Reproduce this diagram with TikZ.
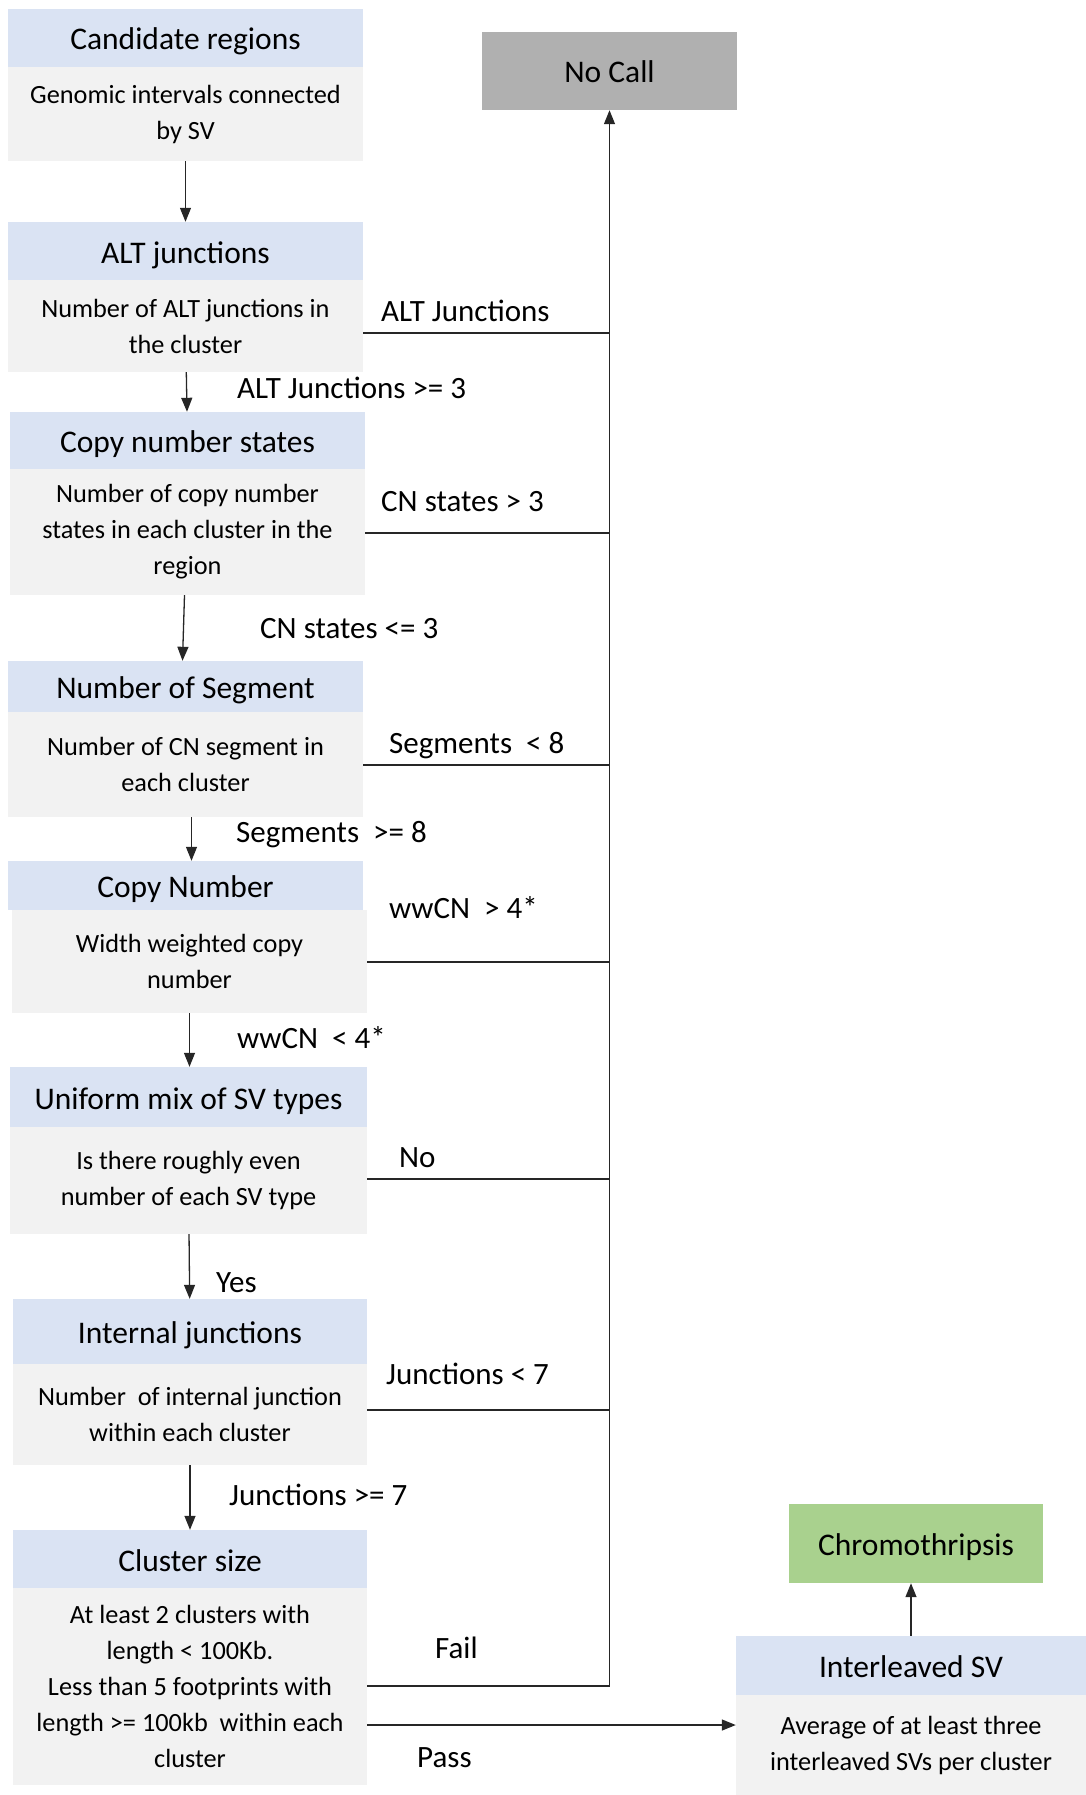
\documentclass[tikz,border=0pt]{standalone}
\usepackage{fontspec}
\setmainfont{Carlito}
\usetikzlibrary{arrows.meta}
\definecolor{hdrblue}{HTML}{DAE3F3}
\definecolor{bodygray}{HTML}{F2F2F2}
\definecolor{callgray}{HTML}{B0B0B0}
\definecolor{okgreen}{HTML}{A9D18E}
\definecolor{linecol}{HTML}{262626}
\begin{document}
\begin{tikzpicture}[x=1pt,y=-1pt,
  hdr/.style={fill=hdrblue, inner sep=0pt, text height=24pt, text depth=0pt, font=\fontsize{31.5}{36}\selectfont},
  bodybox/.style={fill=bodygray, inner sep=0pt, align=center, font=\fontsize{26.3}{36}\selectfont},
  endbox/.style={inner sep=0pt, text height=23pt, text depth=0pt, font=\fontsize{31.5}{36}\selectfont},
  lbl/.style={anchor=base west, inner sep=0pt, font=\fontsize{31}{36}\selectfont},
  flow/.style={line width=1.3pt, draw=linecol, -{Triangle[length=14pt,width=11pt]}},
  link/.style={line width=1.3pt, draw=linecol}]
\useasboundingbox (0,0) rectangle (1086,1795);

% stages: blue title bar over grey description
\node[hdr, minimum width=355, minimum height=58] (h1) at (185.5,38) {Candidate regions};
\node[bodybox, minimum width=355, minimum height=94] (b1) at (185.5,114) {Genomic intervals connected\\by SV};

\node[hdr, minimum width=355, minimum height=58] (h2) at (185.5,251) {ALT junctions};
\node[bodybox, minimum width=355, minimum height=92] (b2) at (185.5,326) {Number of ALT junctions in\\the cluster};

\node[hdr, minimum width=355, minimum height=57] (h3) at (187.5,440.5) {Copy number states};
\node[bodybox, minimum width=355, minimum height=126] (b3) at (187.5,532) {Number of copy number\\states in each cluster in the\\region};

\node[hdr, minimum width=355, minimum height=51] (h4) at (185.5,686.5) {Number of Segment};
\node[bodybox, minimum width=355, minimum height=105] (b4) at (185.5,764.5) {Number of CN segment in\\each cluster};

\node[hdr, minimum width=355, minimum height=49] (h5) at (185.5,885.5) {Copy Number};
\node[bodybox, minimum width=355, minimum height=103] (b5) at (189.5,961.5) {Width weighted copy\\number};

\node[hdr, minimum width=357, minimum height=60] (h6) at (188.5,1097) {Uniform mix of SV types};
\node[bodybox, minimum width=357, minimum height=107] (b6) at (188.5,1180.5) {Is there roughly even\\number of each SV type};

\node[hdr, minimum width=354, minimum height=65] (h7) at (190,1331.5) {Internal junctions};
\node[bodybox, minimum width=354, minimum height=101] (b7) at (190,1414.5) {Number\ \ of internal junction\\within each cluster};

\node[hdr, minimum width=354, minimum height=58] (h8) at (190,1559) {Cluster size};
\node[bodybox, minimum width=354, minimum height=197] (b8) at (190,1686.5) {At least 2 clusters with\\length < 100Kb.\\Less than 5 footprints with\\length >= 100kb\ \ within each\\cluster};

\node[hdr, minimum width=350, minimum height=59] (ih) at (911,1665.5) {Interleaved SV};
\node[bodybox, minimum width=350, minimum height=100] (ib) at (911,1745) {Average of at least three\\interleaved SVs per cluster};

% outcomes
\node[endbox, fill=callgray, minimum width=255, minimum height=78] (nocall) at (609.5,71) {No Call};
\node[endbox, fill=okgreen, minimum width=254, minimum height=79] (chromo) at (916,1543.5) {Chromothripsis};

% main flow
\draw[flow] (b1) -- (h2);
\draw[flow] (b2) -- (h3);
\draw[flow] ([xshift=-3pt]b3.south) -- ([xshift=-3pt]h4.north);
\draw[flow] ([xshift=6pt]b4.south) -- ([xshift=6pt]h4.north |- h5.north);
\draw[flow] (b5.south) -- (b5.south |- h6.north);
\draw[flow] (b6) -- (h7);
\draw[flow] (b7) -- (h8);
\draw[flow] (ih.north) -- (ih.north |- chromo.south);

% rejection trunk into No Call
\coordinate (fail) at (610,1686);
\draw[flow] (b8.east |- fail) -| (nocall.south);
\coordinate (j2) at (610,333);
\coordinate (j3) at (610,533);
\coordinate (j4) at (610,765);
\coordinate (j5) at (610,962);
\coordinate (j6) at (610,1179);
\coordinate (j7) at (610,1410);
\draw[link] (b2.east |- j2) -- (j2);
\draw[link] (b3.east |- j3) -- (j3);
\draw[link] (b4.east |- j4) -- (j4);
\draw[link] (b5.east |- j5) -- (j5);
\draw[link] (b6.east |- j6) -- (j6);
\draw[link] (b7.east |- j7) -- (j7);

% pass branch
\coordinate (pass) at (700,1725);
\draw[flow] (b8.east |- pass) -- (ib.west |- pass);

% condition labels
\node[lbl] (l2) at (381,321) {ALT Junctions};
\node[lbl] (d2) at (237,398) {ALT Junctions >= 3};
\node[lbl] (l3) at (381,511) {CN states > 3};
\node[lbl] (d3) at (260,638) {CN states <= 3};
\node[lbl] (l4) at (389,753) {Segments\ \ < 8};
\node[lbl] (d4) at (236,842) {Segments\ \ >= 8};
\node[lbl] (l5) at (389,918) {wwCN\ \ > 4*};
\node[lbl] (d5) at (237,1048) {wwCN\ \ < 4*};
\node[lbl] (l6) at (399,1167) {No};
\node[lbl] (d6) at (216,1292) {Yes};
\node[lbl] (l7) at (386,1384) {Junctions < 7};
\node[lbl] (d7) at (229,1505) {Junctions >= 7};
\node[lbl] (l8) at (435,1658) {Fail};
\node[lbl] (p8) at (417,1767) {Pass};
\end{tikzpicture}
\end{document}
